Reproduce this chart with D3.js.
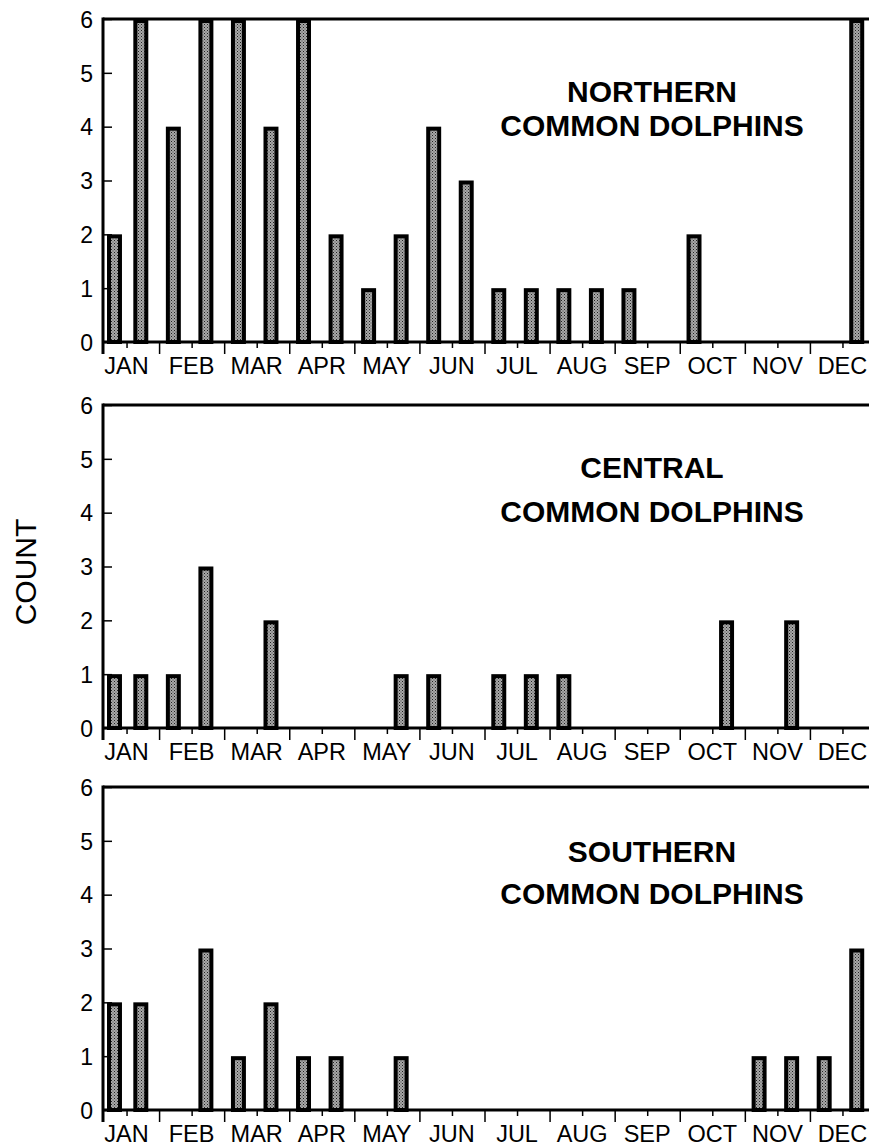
<!DOCTYPE html>
<html>
<head>
<meta charset="utf-8">
<script src="https://cdn.jsdelivr.net/npm/d3@7"></script>
<style>
  body { margin: 0; background: #fff; }
  text { font-family: "Liberation Sans", Arial, sans-serif; fill: #000; }
</style>
</head>
<body>
<svg width="869" height="1148"></svg>
<script>
// months on the x axis, each split in two half-month bins
const months = ["JAN", "FEB", "MAR", "APR", "MAY", "JUN", "JUL", "AUG", "SEP", "OCT", "NOV", "DEC"];
const yTicks = [0, 1, 2, 3, 4, 5, 6];

// counts per half month (24 bins)
const northern = [2, 6, 4, 6, 6, 4, 6, 2, 1, 2, 4, 3, 1, 1, 1, 1, 1, 0, 2, 0, 0, 0, 0, 6];
const central  = [1, 1, 1, 3, 0, 2, 0, 0, 0, 1, 1, 0, 1, 1, 1, 0, 0, 0, 0, 2, 0, 2, 0, 0];
const southern = [2, 2, 0, 3, 1, 2, 1, 1, 0, 1, 0, 0, 0, 0, 0, 0, 0, 0, 0, 0, 1, 1, 1, 3];

const titles = [
  ["NORTHERN", "COMMON DOLPHINS"],
  ["CENTRAL", "COMMON DOLPHINS"],
  ["SOUTHERN", "COMMON DOLPHINS"]
];
const series = [northern, central, southern];

const svg = d3.select("svg");
const W = 869;
const axisX = 103;
const panelTops = [19, 405, 787];
const panelH = 323;
const line1Off = [83, 73, 75]; // baseline of first title line below panel top

// stipple pattern for the bars
const pat = svg.append("defs").append("pattern")
  .attr("id", "dots").attr("width", 3).attr("height", 3)
  .attr("patternUnits", "userSpaceOnUse");
pat.append("rect").attr("width", 3).attr("height", 3).attr("fill", "#a8a8a8");
pat.append("rect").attr("width", 1).attr("height", 1).attr("fill", "#222");
pat.append("rect").attr("x", 1.5).attr("y", 1.5).attr("width", 1).attr("height", 1).attr("fill", "#444");

const bins = d3.range(24);
const xBar = d3.scaleBand().domain(bins).range([92, 873]).paddingInner(0.54).paddingOuter(0.27);
const xMonth = d3.scaleLinear().domain([0, 12]).range([94, 875]);

series.forEach((vals, p) => {
  const top = panelTops[p];
  const bottom = top + panelH;
  const y = d3.scaleLinear().domain([0, 6]).range([bottom, top]);
  const g = svg.append("g");

  // bars
  const bw = xBar.bandwidth();
  g.selectAll("rect.bar")
    .data(vals.map((v, i) => ({ i, v })).filter(d => d.v > 0))
    .enter()
    .append("rect")
    .attr("class", "bar")
    .attr("x", d => Math.max(xBar(d.i), axisX + 4) + 2)
    .attr("y", d => y(d.v) + 2)
    .attr("width", bw - 4)
    .attr("height", d => y(0) - y(d.v) - 2)
    .attr("fill", "url(#dots)")
    .attr("stroke", "#000")
    .attr("stroke-width", 4);

  // y axis with inward ticks
  const yAxis = d3.axisLeft(y).tickValues(yTicks).tickSize(-9).tickPadding(10).tickFormat(d3.format("d"));
  const ya = g.append("g").attr("transform", `translate(${axisX},0)`).call(yAxis);
  ya.select(".domain").remove();
  ya.selectAll(".tick line").attr("stroke", "#000").attr("stroke-width", 1.5);
  ya.selectAll("text").attr("font-size", null).style("font-size", "23px").attr("dy", "0.36em");

  // x axis: major ticks at month boundaries, minor ticks mid-month
  const xMajor = d3.axisBottom(xMonth).tickValues(d3.range(1, 12)).tickSize(12).tickFormat("");
  const xMinor = d3.axisBottom(xMonth).tickValues(d3.range(0.5, 12, 1)).tickSize(6).tickFormat("");
  [xMajor, xMinor].forEach(ax => {
    const a = g.append("g").attr("transform", `translate(0,${bottom})`).call(ax);
    a.select(".domain").remove();
    a.selectAll(".tick line").attr("stroke", "#000").attr("stroke-width", 1.5);
  });
  g.selectAll("text.month")
    .data(months)
    .enter()
    .append("text")
    .attr("class", "month")
    .attr("x", (d, i) => xMonth(i + 0.5))
    .attr("y", bottom + 32)
    .attr("text-anchor", "middle")
    .style("font-size", "23.5px")
    .text(d => d);

  // frame: top, left, bottom
  g.append("line").attr("x1", axisX).attr("x2", W + 5).attr("y1", top).attr("y2", top)
    .attr("stroke", "#000").attr("stroke-width", 3);
  g.append("line").attr("x1", axisX).attr("x2", W + 5).attr("y1", bottom).attr("y2", bottom)
    .attr("stroke", "#000").attr("stroke-width", 3);
  g.append("line").attr("x1", axisX).attr("x2", axisX).attr("y1", top - 1.5).attr("y2", bottom + 12)
    .attr("stroke", "#000").attr("stroke-width", 3);

  // panel title
  g.append("text").attr("x", 652).attr("y", top + line1Off[p])
    .attr("text-anchor", "middle").style("font-size", "30px").style("font-weight", "bold")
    .text(titles[p][0]);
  g.append("text").attr("x", 652).attr("y", top + 117)
    .attr("text-anchor", "middle").style("font-size", "30px").style("font-weight", "bold")
    .text(titles[p][1]);
});

// shared y label
svg.append("text")
  .attr("transform", "translate(36,572) rotate(-90)")
  .attr("text-anchor", "middle")
  .style("font-size", "30px")
  .text("COUNT");
</script>
</body>
</html>
